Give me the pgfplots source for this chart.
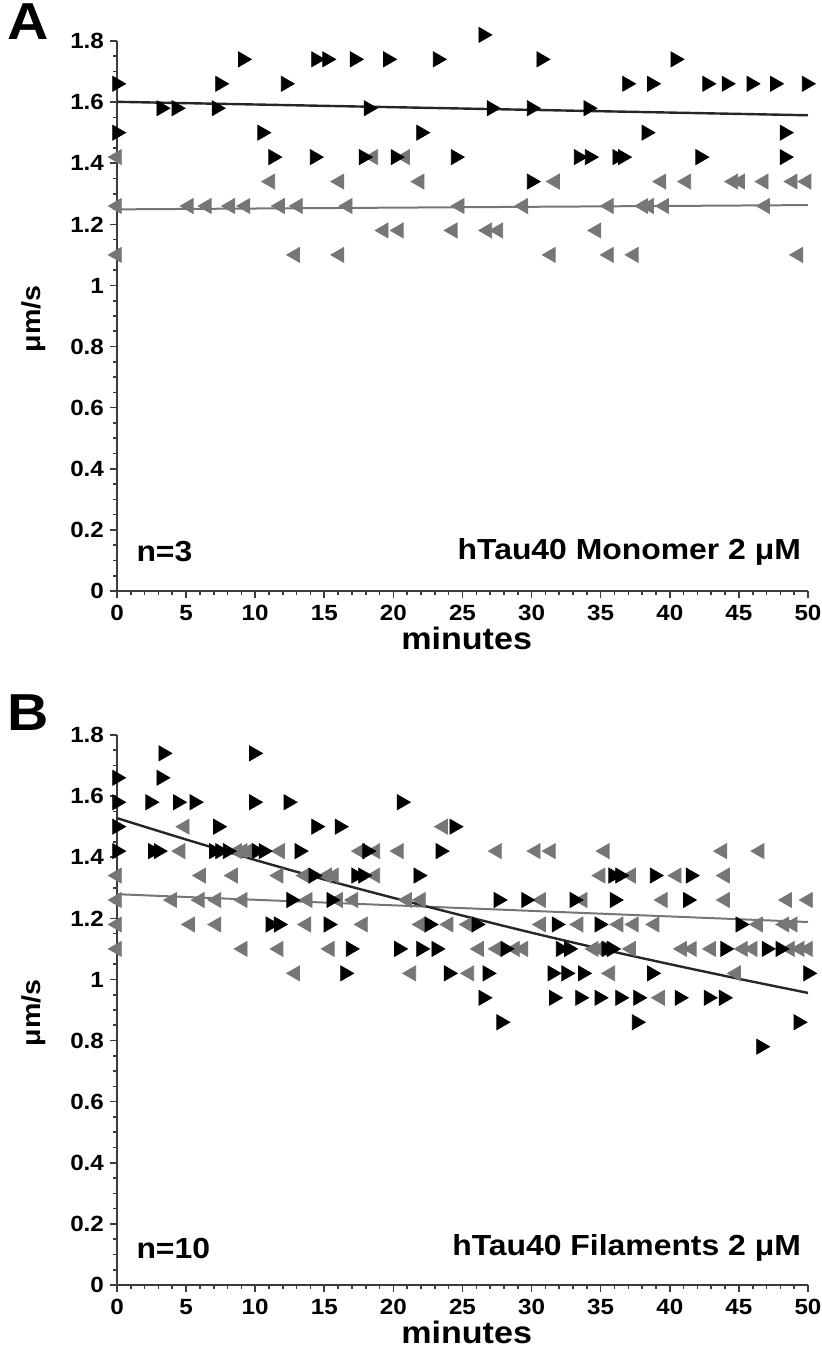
\documentclass[border=0pt]{standalone}
\usepackage{fontspec}
\setmainfont{Liberation Sans}[FakeStretch=1.1]
\usepackage{pgfplots}
\pgfplotsset{compat=1.18}
\definecolor{gmk}{RGB}{118,118,118}
\definecolor{axc}{RGB}{60,60,60}
\pgfplotsset{
  panel/.style={
    width=345.5pt, height=275pt, scale only axis,
    xmin=0, xmax=50, ymin=0, ymax=1.8, enlargelimits=false,
    axis x line=bottom, axis y line=left,
    axis line style={-, line width=1pt, color=axc},
    xtick={0,5,10,15,20,25,30,35,40,45,50},
    ytick={0,0.2,0.4,0.6,0.8,1,1.2,1.4,1.6,1.8},
    yticklabels={0,0.2,0.4,0.6,0.8,1,1.2,1.4,1.6,1.8},
    minor x tick num=4, minor y tick num=3,
    tick align=outside, major tick length=3.5pt, minor tick length=2pt,
    every tick/.style={line width=0.8pt, color=axc},
    ticklabel style={font=\fontsize{11}{13}\selectfont\bfseries},
    yticklabel style={xshift=0.5pt},
    /pgf/number format/assume math mode=true,
    clip=false,
  },
  blk/.style={only marks, mark=triangle*, mark size=4.3pt, color=black,
    mark options={rotate=-90, fill=black, draw=none}},
  gry/.style={only marks, mark=triangle*, mark size=4.3pt, color=gmk,
    mark options={rotate=90, fill=gmk, draw=none}},
}
\begin{document}
\begin{tikzpicture}
\useasboundingbox (-58.5pt,-383pt) rectangle (352.5pt,295.5pt);
% ---------------- Panel A ----------------
\begin{axis}[panel, at={(0pt,0pt)}, anchor=south west]
\addplot[gry] coordinates {(0,1.42)(0,1.26)(0,1.10)(5.2,1.26)(6.5,1.26)(8.2,1.26)(9.3,1.26)(11.1,1.34)(11.8,1.26)(12.9,1.10)(13.1,1.26)(16.1,1.34)(16.1,1.10)(16.7,1.26)(18.55,1.42)(19.3,1.18)(20.4,1.18)(20.85,1.42)(21.9,1.34)(24.3,1.18)(24.8,1.26)(26.8,1.18)(27.6,1.18)(29.4,1.26)(31.4,1.10)(31.7,1.34)(34.7,1.18)(35.6,1.26)(35.6,1.10)(37.4,1.10)(38.1,1.26)(38.5,1.26)(39.4,1.34)(39.6,1.26)(41.2,1.34)(44.6,1.34)(45.1,1.34)(46.8,1.34)(46.9,1.26)(48.9,1.34)(49.3,1.10)(49.9,1.34)};
\addplot[blk] coordinates {(0,1.66)(0,1.50)(3.2,1.58)(4.3,1.58)(7.2,1.58)(7.45,1.66)(9.1,1.74)(10.5,1.50)(11.3,1.42)(12.2,1.66)(14.3,1.42)(14.4,1.74)(15.2,1.74)(17.2,1.74)(18.2,1.58)(17.85,1.42)(19.6,1.74)(20.15,1.42)(22.0,1.50)(23.2,1.74)(24.5,1.42)(26.5,1.82)(27.1,1.58)(30.0,1.58)(30.0,1.34)(30.7,1.74)(33.4,1.42)(34.2,1.42)(34.1,1.58)(36.2,1.42)(36.6,1.42)(36.9,1.66)(38.3,1.50)(38.7,1.66)(40.4,1.74)(42.2,1.42)(42.7,1.66)(44.1,1.66)(45.9,1.66)(47.6,1.66)(48.3,1.50)(48.3,1.42)(49.9,1.66)};
\addplot[gmk, line width=1pt, no marks] coordinates {(0,1.249)(50,1.263)};
\addplot[black!85, line width=1.2pt, no marks] coordinates {(0,1.601)(50,1.557)};
\node[font=\fontsize{26}{30}\selectfont\bfseries] at (axis description cs:-0.129,1.035) {A};
\node[rotate=90, font=\fontsize{13}{15}\selectfont\bfseries] at (axis description cs:-0.12,0.495) {μm/s};
\node[font=\fontsize{14.5}{17}\selectfont\bfseries, anchor=west] at (axis description cs:0.018,0.071) {n=3};
\node[font=\fontsize{14.5}{17}\selectfont\bfseries, anchor=east] at (axis description cs:1.0,0.071) {hTau40 Monomer 2 μM};
\node[font=\fontsize{15.5}{18}\selectfont\bfseries] at (axis description cs:0.506,0) [yshift=-23.5pt] {minutes};
\end{axis}
% ---------------- Panel B ----------------
\begin{axis}[panel, at={(0pt,-347pt)}, anchor=south west]
\addplot[gry] coordinates {(4.9,1.50)(23.6,1.50)
(4.6,1.42)(8.7,1.42)(9.1,1.42)(9.5,1.42)(11.8,1.42)(17.6,1.42)(18.7,1.42)(20.4,1.42)(27.5,1.42)(30.3,1.42)(31.4,1.42)(35.3,1.42)(43.8,1.42)(46.5,1.42)
(0,1.34)(6.1,1.34)(8.4,1.34)(11.7,1.34)(13.6,1.34)(15.2,1.34)(15.7,1.34)(18.7,1.34)(35.0,1.34)(37.2,1.34)(40.5,1.34)(44.0,1.34)
(0,1.26)(4.0,1.26)(6.0,1.26)(7.2,1.26)(9.1,1.26)(13.8,1.26)(16.0,1.26)(17.1,1.26)(21.0,1.26)(22.0,1.26)(30.7,1.26)(33.7,1.26)(39.5,1.26)(44.0,1.26)(48.5,1.26)(50.0,1.26)
(0,1.18)(5.3,1.18)(7.2,1.18)(13.7,1.18)(17.8,1.18)(22.0,1.18)(24.0,1.18)(25.4,1.18)(30.7,1.18)(33.4,1.18)(36.3,1.18)(37.4,1.18)(38.9,1.18)(46.4,1.18)(48.3,1.18)(48.9,1.18)
(0,1.10)(9.1,1.10)(11.7,1.10)(15.4,1.10)(26.2,1.10)(27.5,1.10)(28.8,1.10)(29.4,1.10)(34.5,1.10)(34.9,1.10)(35.2,1.10)(37.2,1.10)(40.9,1.10)(41.6,1.10)(43.0,1.10)(45.3,1.10)(46.0,1.10)(48.7,1.10)(49.4,1.10)(50.0,1.10)
(12.9,1.02)(21.3,1.02)(25.5,1.02)(35.7,1.02)(44.8,1.02)
(39.3,0.94)};
\addplot[blk] coordinates {(3.35,1.74)(9.9,1.74)
(0,1.66)(3.2,1.66)
(0,1.58)(2.4,1.58)(4.4,1.58)(5.6,1.58)(9.9,1.58)(12.4,1.58)(20.6,1.58)
(0,1.50)(7.3,1.50)(14.4,1.50)(16.1,1.50)(24.4,1.50)
(0,1.42)(2.6,1.42)(3.0,1.42)(7.0,1.42)(7.45,1.42)(8.0,1.42)(10.1,1.42)(10.6,1.42)(13.2,1.42)(18.1,1.42)(23.4,1.42)
(14.2,1.34)(17.3,1.34)(17.8,1.34)(21.8,1.34)(35.9,1.34)(36.4,1.34)(38.9,1.34)(41.5,1.34)
(12.6,1.26)(15.5,1.26)(27.6,1.26)(29.6,1.26)(33.1,1.26)(36.0,1.26)(41.3,1.26)
(11.1,1.18)(11.7,1.18)(15.3,1.18)(22.6,1.18)(26.0,1.18)(31.8,1.18)(34.9,1.18)(45.1,1.18)
(16.9,1.10)(20.4,1.10)(22.0,1.10)(23.1,1.10)(28.1,1.10)(32.1,1.10)(32.7,1.10)(35.4,1.10)(35.8,1.10)(44.0,1.10)(47.0,1.10)(48.0,1.10)
(16.5,1.02)(24.0,1.02)(26.8,1.02)(31.5,1.02)(32.5,1.02)(33.7,1.02)(38.7,1.02)(50.0,1.02)
(26.5,0.94)(31.6,0.94)(33.5,0.94)(34.9,0.94)(36.4,0.94)(37.7,0.94)(40.7,0.94)(42.8,0.94)(43.9,0.94)
(27.8,0.86)(37.6,0.86)(49.3,0.86)
(46.6,0.78)};
\addplot[gmk, line width=1pt, no marks] coordinates {(0,1.279)(50,1.188)};
\addplot[black!85, line width=1.2pt, no marks, smooth] coordinates {(0,1.528)(5,1.458)(10,1.391)(15,1.327)(20,1.267)(25,1.209)(30,1.153)(35,1.100)(40,1.050)(45,1.002)(50,0.956)};
\node[font=\fontsize{26}{30}\selectfont\bfseries] at (axis description cs:-0.129,1.04) {B};
\node[rotate=90, font=\fontsize{13}{15}\selectfont\bfseries] at (axis description cs:-0.12,0.495) {μm/s};
\node[font=\fontsize{14.5}{17}\selectfont\bfseries, anchor=west] at (axis description cs:0.018,0.067) {n=10};
\node[font=\fontsize{14.5}{17}\selectfont\bfseries, anchor=east] at (axis description cs:1.0,0.067) {hTau40 Filaments 2 μM};
\node[font=\fontsize{15.5}{18}\selectfont\bfseries] at (axis description cs:0.506,0) [yshift=-23.5pt] {minutes};
\end{axis}
\end{tikzpicture}
\end{document}
